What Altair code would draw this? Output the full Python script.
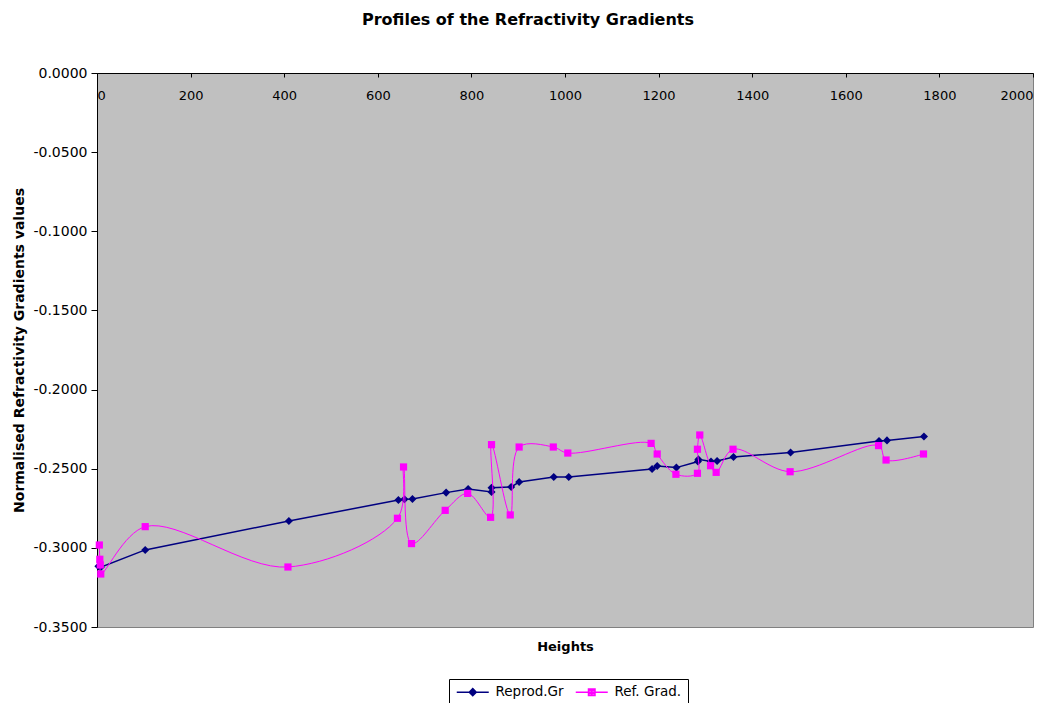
import altair as alt
import pandas as pd

# Reprod.Gr series (heights, normalised gradient values)
reprod_h = [3, 5, 6, 8, 103, 410, 644, 657, 674, 746, 793, 843, 843, 885, 902,
            976, 1008, 1186, 1197, 1238, 1284, 1285, 1312, 1325, 1360, 1482,
            1671, 1688, 1767]
reprod_v = [-0.3116, -0.3118, -0.3120, -0.3122, -0.3013, -0.2830, -0.2698,
            -0.2693, -0.2691, -0.2651, -0.2628, -0.2647, -0.2620, -0.2615,
            -0.2584, -0.2552, -0.2552, -0.2502, -0.2483, -0.2493, -0.2455,
            -0.2441, -0.2455, -0.2451, -0.2426, -0.2397, -0.2325, -0.2321,
            -0.2297]

# Ref. Grad. series
ref_h = [5, 6, 7, 8, 103, 408, 642, 655, 672, 744, 792, 841, 843, 883, 902,
         975, 1006, 1184, 1197, 1237, 1283, 1283, 1288, 1311, 1323, 1359,
         1481, 1670, 1686, 1766]
ref_v = [-0.2982, -0.3072, -0.3108, -0.3165, -0.2866, -0.3121, -0.2813,
         -0.2489, -0.2973, -0.2763, -0.2656, -0.2807, -0.2348, -0.2792,
         -0.2363, -0.2363, -0.2401, -0.2340, -0.2407, -0.2535, -0.2529,
         -0.2377, -0.2287, -0.2481, -0.2523, -0.2377, -0.2519, -0.2354,
         -0.2445, -0.2407]

series_names = ["Reprod.Gr", "Ref. Grad."]
series_colors = ["#000080", "#FF00FF"]
x_ticks = [0, 200, 400, 600, 800, 1000, 1200, 1400, 1600, 1800, 2000]
y_ticks = [0.0, -0.05, -0.10, -0.15, -0.20, -0.25, -0.30, -0.35]

df_rep = pd.DataFrame({"h": reprod_h, "v": reprod_v, "idx": range(len(reprod_h))})
df_ref = pd.DataFrame({"h": ref_h, "v": ref_v, "idx": range(len(ref_h))})
df_leg = pd.DataFrame({"series": series_names, "h": [0, 0], "v": [0.0, 0.0]})

FONT = "DejaVu Sans"
W, H = 936, 554

x_enc = alt.X(
    "h:Q",
    scale=alt.Scale(domain=[0, 2000], nice=False, zero=False),
    axis=alt.Axis(
        values=x_ticks, format="d", orient="bottom", offset=-H, grid=False,
        domainColor="#000000", tickColor="#000000", tickSize=4,
        labelPadding=12, labelFontSize=13, labelFont=FONT, labelColor="#000000",
        title="Heights", titleFont=FONT, titleFontSize=13, titleFontWeight="bold",
        titlePadding=538, titleColor="#000000",
    ),
)
y_enc = alt.Y(
    "v:Q",
    scale=alt.Scale(domain=[-0.35, 0.0], nice=False, zero=False),
    axis=alt.Axis(
        values=y_ticks, format=".4f", grid=False,
        domainColor="#000000", tickColor="#000000", tickSize=6,
        labelPadding=4, labelFontSize=14, labelFont=FONT, labelColor="#000000",
        title="Normalised Refractivity Gradients values", titleFont=FONT,
        titleFontSize=14, titleFontWeight="bold", titlePadding=6,
        titleColor="#000000",
    ),
)

rep_line = alt.Chart(df_rep).mark_line(
    color=series_colors[0], strokeWidth=1.5
).encode(x=x_enc, y=y_enc, order="idx:Q")
rep_pts = alt.Chart(df_rep).mark_point(
    shape="diamond", filled=True, color=series_colors[0], size=65, opacity=1
).encode(x="h:Q", y="v:Q")

ref_line = alt.Chart(df_ref).mark_line(
    color=series_colors[1], strokeWidth=1, interpolate="catmull-rom"
).encode(x="h:Q", y="v:Q", order="idx:Q")
ref_pts = alt.Chart(df_ref).mark_point(
    shape="square", filled=True, color=series_colors[1], size=52, opacity=1
).encode(x="h:Q", y="v:Q")

# legend glyphs: line with a (visually solid) marker in the middle
diamond_path = ("M-3.2,0H3.2M0,-0.7L0.7,0L0,0.7L-0.7,0Z"
                "M0,-0.7V0.7M-0.35,-0.35L0.35,0.35M-0.35,0.35L0.35,-0.35")
square_path = ("M-3.2,0H3.2M-0.65,-0.65H0.65V0.65H-0.65Z"
               "M-0.65,-0.32H0.65M-0.65,0.32H0.65M0,-0.65V0.65")

legend_layer = alt.Chart(df_leg).transform_filter("false").mark_point(
    filled=False, strokeWidth=1.5, opacity=1
).encode(
    x="h:Q", y="v:Q",
    stroke=alt.Stroke("series:N", scale=alt.Scale(domain=series_names, range=series_colors),
                      legend=alt.Legend(title=None)),
    shape=alt.Shape("series:N", scale=alt.Scale(domain=series_names,
                                                range=[diamond_path, square_path]),
                    legend=alt.Legend(title=None)),
)

chart = alt.layer(rep_line, rep_pts, ref_line, ref_pts, legend_layer).properties(
    width=W, height=H, background="#FFFFFF",
    title=alt.TitleParams(
        "Profiles of the Refractivity Gradients", font=FONT, fontSize=16,
        fontWeight="bold", color="#000000", anchor="middle", offset=38, dx=-37,
    ),
    autosize=alt.AutoSizeParams(type="none"),
    padding={"left": 89, "top": 65, "right": 13, "bottom": 76},
).configure(
    locale={"number": {"decimal": ".", "thousands": ",", "grouping": [3],
                       "currency": ["$", ""], "minus": "-"}}
).configure_view(
    fill="#C0C0C0", stroke="#808080", strokeWidth=1
).configure_legend(
    orient="none", legendX=352, legendY=606, direction="horizontal",
    strokeColor="#000000", fillColor="#FFFFFF", padding=6,
    labelFont=FONT, labelFontSize=13.5, labelColor="#000000",
    symbolSize=100, symbolStrokeWidth=1.5, symbolOffset=11,
    columnPadding=8, labelOffset=16,
)

chart.save("out.html", embed_options={"renderer": "svg", "actions": False})
